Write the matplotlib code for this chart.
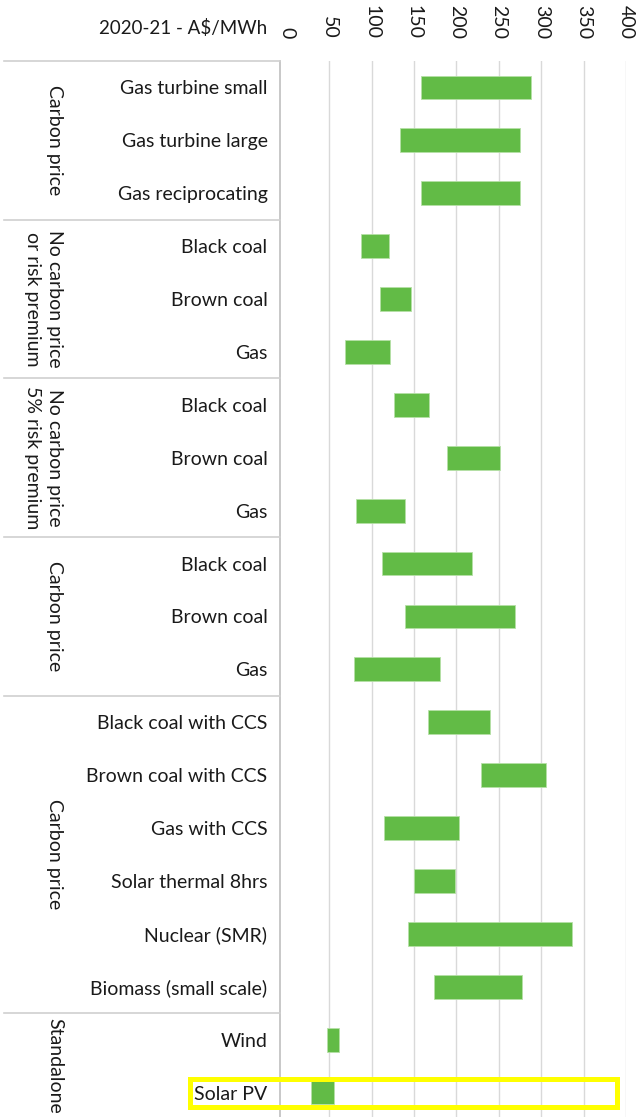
#!/usr/bin/env python3
"""
Floating bar chart of 2020-21 LCOE ranges (A$/MWh) by technology,
grouped by carbon price / risk premium assumption. Saves out.png.
"""

import matplotlib
matplotlib.use("Agg")
import matplotlib.pyplot as plt
from matplotlib.patches import Rectangle
from matplotlib.lines import Line2D
from matplotlib.transforms import blended_transform_factory

# Technologies, top to bottom
categories = [
    "Gas turbine small", "Gas turbine large", "Gas reciprocating",
    "Black coal", "Brown coal", "Gas",
    "Black coal", "Brown coal", "Gas",
    "Black coal", "Brown coal", "Gas",
    "Black coal with CCS", "Brown coal with CCS", "Gas with CCS",
    "Solar thermal 8hrs", "Nuclear (SMR)", "Biomass (small scale)",
    "Wind", "Solar PV",
]

# Low / high end of each cost range
low_cost = [158, 134, 158, 88, 110, 69, 126, 189, 82, 112, 139, 79,
            167, 229, 115, 150, 143, 174, 48, 29]
high_cost = [288, 275, 275, 120, 146, 122, 168, 251, 139, 218, 269, 181,
             240, 306, 203, 198, 336, 277, 62, 56]

# Group labels and (first, last) category index of each group
group_labels = [
    "Carbon price",
    "No carbon price\nor risk premium",
    "No carbon price\n5% risk premium",
    "Carbon price",
    "Carbon price",
    "Standalone",
]
group_spans = [(0, 2), (3, 5), (6, 8), (9, 11), (12, 17), (18, 19)]

x_ticks = [0, 50, 100, 150, 200, 250, 300, 350, 400]
x_label = "2020-21 - A$/MWh"
highlight = "Solar PV"

FONT = ["Lato", "DejaVu Sans"]
FS = 14
W, H = 637, 1117


def main():
    plt.rcParams["font.family"] = FONT
    fig = plt.figure(figsize=(W / 100, H / 100), dpi=100)

    # plot area in pixels: x 280..626, y 61..1119
    left, right, top, bottom = 280, 626, 61, 1119
    ax = fig.add_axes([left / W, 1 - bottom / H, (right - left) / W, (bottom - top) / H])

    y = list(range(len(categories)))
    widths = [h - l for l, h in zip(low_cost, high_cost)]
    ax.barh(y, widths, left=low_cost, height=0.45, color="#62bb46",
            edgecolor="#b5e0a6", linewidth=0.6, zorder=3)

    ax.set_xlim(-8, 400)
    ax.set_ylim(len(categories) - 0.5, -0.5)

    # vertical gridlines (none at 0, the axis line sits there)
    for t in x_ticks[1:]:
        ax.axvline(t, color="#d9d9d9", linewidth=1.0, zorder=1)

    ax.xaxis.tick_top()
    ax.set_xticks(x_ticks)
    ax.set_xticklabels([str(t) for t in x_ticks], rotation=270, fontsize=FS,
                       color="#1a1a1a", va="bottom")
    ax.tick_params(axis="x", length=0, pad=16)

    ax.set_yticks(y)
    ax.set_yticklabels(categories, fontsize=FS, color="#1a1a1a")
    ax.tick_params(axis="y", length=0, pad=9)

    for side in ["top", "right", "bottom"]:
        ax.spines[side].set_visible(False)
    ax.spines["left"].set_color("#bfbfbf")
    ax.spines["left"].set_linewidth(1.2)

    # axis title, left of the "0" tick
    fig.text(267 / W, 1 - 28 / H, x_label, ha="right", va="center",
             fontsize=FS - 0.5, color="#1a1a1a")

    # group separators and labels, x in figure coords, y in data coords
    trans = blended_transform_factory(fig.transFigure, ax.transData)
    line_x = [4 / W, left / W]
    bounds = [-0.5] + [end + 0.5 for _, end in group_spans]
    for b in bounds:
        fig.add_artist(Line2D(line_x, [b, b], transform=trans,
                              color="#d0d0d0", linewidth=1.2))

    for label, (start, end) in zip(group_labels, group_spans):
        mid = (start + end) / 2
        fig.text(63 / W, mid, label, transform=trans, rotation=270,
                 ha="right", va="center", fontsize=FS, color="#1a1a1a",
                 linespacing=1.35, multialignment="center")

    # yellow box around the highlighted row
    idx = categories.index(highlight)
    box = Rectangle((190 / W, idx - 0.26), (617 - 190) / W, 0.54,
                    transform=trans, fill=False, edgecolor="#ffff00",
                    linewidth=3.6, clip_on=False, zorder=5)
    fig.add_artist(box)

    fig.savefig("out.png", dpi=100)


if __name__ == "__main__":
    main()
